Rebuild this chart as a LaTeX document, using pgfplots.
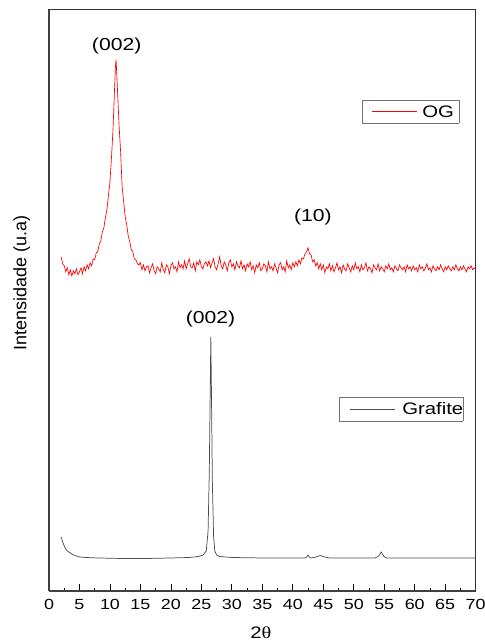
\documentclass[border=0pt]{standalone}
\usepackage{pgfplots}
\pgfplotsset{compat=1.18}
\usepackage{fontspec}
\setmainfont{Liberation Sans}[FakeStretch=1.22]
\newfontfamily\plainsans{Liberation Sans}
\newfontfamily\greek{Liberation Serif}[FakeStretch=1.22]

\begin{document}
\begin{tikzpicture}
\useasboundingbox (-36.75pt,-38.25pt) rectangle (327pt,443.25pt);
\begin{axis}[
  at={(0pt,0pt)}, anchor=south west,
  width=320pt, height=436pt, scale only axis,
  xmin=0, xmax=70, ymin=0, ymax=581,
  clip=false,
  axis x line*=bottom, axis y line*=left,
  xtick distance=5, minor x tick num=1,
  ytick=\empty,
  tick align=inside,
  major tick length=5pt, minor tick length=2.5pt,
  tick style={black, line width=0.6pt},
  axis line style={draw=black!75, line width=0.8pt, -},
  /pgf/number format/assume math mode=true,
  tick label style={font=\fontsize{11}{12}\selectfont, yshift=-2.5pt},
]
% Grafite
\addplot[color=black!70, line width=0.55pt] coordinates {
(2,54)(2.25,49)(2.5,45)(2.75,42)(3,40)(3.5,38)(4,36)(4.5,35)(5,34)(6,33.5)(8,33)
(12,32.5)(16,32.5)(20,33)(23,33.5)(24.5,34.5)(25.3,36)(25.8,40)(26.1,60)(26.3,120)
(26.45,200)(26.55,254)(26.65,200)(26.8,110)(27.0,55)(27.2,40)(27.5,36)(28,34.5)
(30,33.5)(35,33)(40,33)(42,33)(42.3,34)(42.5,36)(42.7,34)(43,33)(43.8,34)(44.5,35.5)
(45.2,34)(46,33)(50,33)(53.5,33)(54.1,35)(54.5,39)(54.9,35)(55.3,33)(60,33)(65,33)(70,33)
};
% OG
\addplot[color=red, line width=0.5pt] coordinates {
(2.00,334)(2.25,327)(2.50,325)(2.75,319)(3.00,323)(3.25,316)(3.50,321)(3.75,315)
(4.00,320)(4.25,317)(4.50,322)(4.75,316)(5.00,319)(5.25,323)(5.50,317)(5.75,324)
(6.00,320)(6.25,326)(6.50,322)(6.75,328)(7.00,325)(7.25,332)(7.50,331)(7.75,338)
(8.00,339)(8.25,347)(8.50,350)(8.75,359)(9.00,363)(9.25,373)(9.50,381)(9.75,395)
(10.00,409)(10.25,433)(10.50,461)(10.75,501)(10.90,524)(11.00,531)(11.10,519)
(11.25,499)(11.50,465)(11.75,439)(12.00,404)(12.25,389)(12.50,374)(12.75,366)
(13.00,355)(13.25,349)(13.50,341)(13.75,339)(14.00,332)(14.25,331)(14.50,327)
(14.75,326)(15.00,328)(15.25,321)(15.50,326)(15.75,320)(16.00,324)
(16.25,325)(16.5,318)(16.75,323)(17,327)(17.25,320)(17.5,317)(17.75,324)(18,322)
(18.25,319)(18.5,328)(18.75,321)(19,318)(19.25,326)(19.5,324)(19.75,317)(20,325)
(20.25,328)(20.5,322)(20.75,324)(21,319)(21.25,329)(21.5,323)(21.75,326)(22,322)
(22.25,330)(22.5,322)(22.75,327)(23,332)(23.25,324)(23.5,323)(23.75,328)(24,320)
(24.25,329)(24.5,326)(24.75,331)(25,324)(25.25,322)(25.5,327)(25.75,329)(26,325)
(26.25,330)(26.5,323)(26.75,328)(27,332)(27.25,324)(27.5,321)(27.75,327)(28,334)
(28.25,325)(28.5,322)(28.75,329)(29,326)(29.25,320)(29.5,328)(29.75,331)(30,324)
(30.25,327)(30.5,321)(30.75,329)(31,325)(31.25,323)(31.5,330)(31.75,322)(32,326)
(32.25,320)(32.5,327)(32.75,324)(33,329)(33.25,321)(33.5,325)(33.75,318)(34,326)
(34.25,323)(34.5,328)(34.75,320)(35,322)(35.25,327)(35.5,325)(35.75,319)(36,329)
(36.25,322)(36.5,324)(36.75,320)(37,327)(37.25,323)(37.5,318)(37.75,326)(38,328)
(38.25,321)(38.5,324)(38.75,319)(39,330)(39.25,323)(39.5,326)(39.75,321)(40,328)
(40.25,324)(40.5,329)(40.75,325)(41,331)(41.25,327)(41.5,333)(41.75,332)(42,337)
(42.25,339)(42.5,343)(42.75,337)(43,336)(43.25,329)(43.5,331)(43.75,325)(44,328)
(44.25,322)(44.5,327)(44.75,321)(45,326)(45.25,318)(45.5,324)(45.75,322)(46,327)
(46.25,320)(46.5,325)(46.75,319)(47,323)(47.25,328)(47.5,321)(47.75,324)(48,318)
(48.25,326)(48.5,322)(48.75,320)(49,327)(49.25,323)(49.5,319)(49.75,325)(50,321)
(50.25,328)(50.5,322)(50.75,324)(51,319)(51.25,326)(51.5,321)(51.75,323)(52,328)
(52.25,320)(52.5,324)(52.75,322)(53,318)(53.25,326)(53.5,323)(53.75,321)(54,327)
(54.25,320)(54.5,324)(54.75,322)(55,319)(55.25,325)(55.5,322)(55.75,327)(56,321)
(56.25,323)(56.5,319)(56.75,325)(57,322)(57.25,320)(57.5,326)(57.75,323)(58,321)
(58.25,324)(58.5,319)(58.75,326)(59,322)(59.25,324)(59.5,320)(59.75,325)(60,321)
(60.25,323)(60.5,319)(60.75,326)(61,322)(61.25,324)(61.5,320)(61.75,323)(62,327)
(62.25,321)(62.5,323)(62.75,319)(63,325)(63.25,322)(63.5,320)(63.75,324)(64,321)
(64.25,326)(64.5,322)(64.75,319)(65,324)(65.25,321)(65.5,325)(65.75,322)(66,320)
(66.25,324)(66.5,321)(66.75,326)(67,322)(67.25,320)(67.5,324)(67.75,321)(68,325)
(68.25,322)(68.5,319)(68.75,324)(69,322)(69.25,325)(69.5,321)(69.75,323)(70,322)
};
\node[font=\fontsize{13}{15}\selectfont] at (axis cs:26.5,272) {(002)};
\node[font=\fontsize{13}{15}\selectfont] at (axis cs:11.1,545) {(002)};
\node[font=\fontsize{13}{15}\selectfont] at (axis cs:43.3,374) {(10)};
\node[font=\fontsize{12.5}{14}\selectfont] at (rel axis cs:0.4965,-0.0723) {2{\greek θ}};
\node[rotate=90, font=\plainsans\fontsize{13.5}{15}\selectfont] at (rel axis cs:-0.064,0.53) {Intensidade (u.a)};
\end{axis}
% frame top and right, as thin filled strips
\fill[black!80] (-0.4pt,435.6pt) rectangle (320.4pt,436.4pt);
\fill[black!80] (319.6pt,-0.4pt) rectangle (320.4pt,436.4pt);
% legend OG
\fill[black!55] (234.5pt,350.75pt) rectangle (307.75pt,351.25pt);
\fill[black!55] (234.5pt,368pt) rectangle (307.75pt,368.5pt);
\fill[black!55] (234.5pt,350.75pt) rectangle (235pt,368.5pt);
\fill[black!55] (307.25pt,350.75pt) rectangle (307.75pt,368.5pt);
\fill[red] (242.25pt,359.3pt) rectangle (276pt,359.9pt);
\node[anchor=west, inner sep=0pt, font=\fontsize{12.5}{14}\selectfont] at (279.75pt,359.6pt) {OG};
% legend Grafite
\fill[black!55] (217.25pt,127.25pt) rectangle (310.75pt,127.75pt);
\fill[black!55] (217.25pt,145.25pt) rectangle (310.75pt,145.75pt);
\fill[black!55] (217.25pt,127.25pt) rectangle (217.75pt,145.75pt);
\fill[black!55] (310.25pt,127.25pt) rectangle (310.75pt,145.75pt);
\fill[black!70] (225.75pt,136.2pt) rectangle (259.5pt,136.8pt);
\node[anchor=west, inner sep=0pt, font=\fontsize{12.5}{14}\selectfont] at (264.75pt,136.5pt) {Grafite};
\end{tikzpicture}
\end{document}
